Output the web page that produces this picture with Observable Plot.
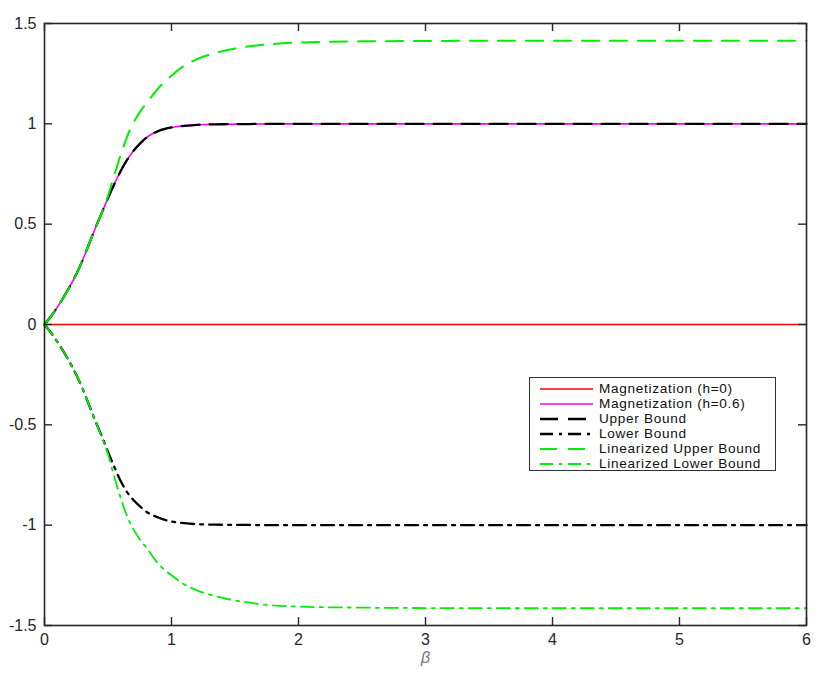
<!DOCTYPE html>
<html><head><meta charset="utf-8">
<script src="https://cdn.jsdelivr.net/npm/d3@7"></script>
<script src="https://cdn.jsdelivr.net/npm/@observablehq/plot@0.6"></script>
<style>
body{margin:0;background:#fff;font-family:"Liberation Sans",Arial,Helvetica,sans-serif}
#wrap{position:relative;width:830px;height:676px}
#legend{position:absolute;left:529px;top:377px;width:247px;height:94px;border:1px solid #333;background:#fff;box-sizing:border-box}
.row{position:absolute;left:0;height:15px;line-height:14px;display:flex;align-items:center;font-size:13.6px;letter-spacing:0.7px;color:#111;white-space:nowrap}
.row svg{margin-left:10px;margin-right:6px}
</style></head><body><div id="wrap"></div>
<script>
// data
const beta = [0,0.05,0.1,0.15,0.2,0.25,0.3,0.35,0.4,0.45,0.5,0.55,0.6,0.65,0.7,0.75,0.8,0.9,1.0,1.1,1.2,1.4,1.6,1.8,2.0,2.5,3,4,5,6];
const magH0 =      [0,0,0,0,0,0,0,0,0,0,0,0,0,0,0,0,0,0,0,0,0,0,0,0,0,0,0,0,0,0];
const magH06 =     [0,0.04,0.085,0.135,0.19,0.25,0.32,0.40,0.48,0.555,0.63,0.70,0.765,0.82,0.865,0.90,0.93,0.965,0.982,0.99,0.995,0.998,0.999,1,1,1,1,1,1,1];
const upperBound = [0,0.04,0.085,0.135,0.19,0.25,0.32,0.40,0.48,0.555,0.63,0.70,0.765,0.82,0.865,0.90,0.93,0.965,0.982,0.99,0.995,0.998,0.999,1,1,1,1,1,1,1];
const lowerBound = [0,-0.04,-0.085,-0.135,-0.19,-0.25,-0.32,-0.40,-0.48,-0.555,-0.635,-0.71,-0.78,-0.835,-0.875,-0.905,-0.932,-0.963,-0.982,-0.99,-0.995,-0.998,-0.999,-1,-1,-1,-1,-1,-1,-1];
const linUpper =   [0,0.04,0.085,0.135,0.19,0.25,0.32,0.40,0.48,0.555,0.64,0.745,0.845,0.935,1.005,1.058,1.10,1.18,1.24,1.29,1.322,1.362,1.385,1.398,1.405,1.411,1.413,1.414,1.414,1.414];
const linLower =   [0,-0.04,-0.085,-0.135,-0.19,-0.25,-0.32,-0.40,-0.48,-0.56,-0.645,-0.76,-0.865,-0.955,-1.02,-1.07,-1.11,-1.195,-1.25,-1.295,-1.325,-1.362,-1.385,-1.40,-1.406,-1.411,-1.413,-1.414,-1.414,-1.414];
const seriesNames = ["Magnetization (h=0)","Magnetization (h=0.6)","Upper Bound","Lower Bound","Linearized Upper Bound","Linearized Lower Bound"];
const seriesValues = [magH0, magH06, upperBound, lowerBound, linUpper, linLower];
const xTicks = [0,1,2,3,4,5,6];
const yTicks = [-1.5,-1,-0.5,0,0.5,1,1.5];
const yTickLabels = ["-1.5","-1","-0.5","0","0.5","1","1.5"];

const styles = [
  {stroke:"#ff0000", strokeWidth:1.6, dash:null},
  {stroke:"#ff00ff", strokeWidth:1.6, dash:null},
  {stroke:"#000000", strokeWidth:2.3, dash:"18,10"},
  {stroke:"#000000", strokeWidth:2.3, dash:"13,6,3,6"},
  {stroke:"#00ee00", strokeWidth:2.0, dash:"17,11"},
  {stroke:"#00ee00", strokeWidth:1.8, dash:"13,6,3,6"}
];

const W = 830, H = 676, mL = 44, mR = 24, mT = 23, mB = 51;
const innerW = W - mL - mR, innerH = H - mT - mB;

const lineMarks = seriesValues.map((vals, i) => {
  const rows = beta.map((b, j) => ({beta: b, value: vals[j]}));
  return Plot.line(rows, {x:"beta", y:"value", stroke: styles[i].stroke, strokeWidth: styles[i].strokeWidth,
    strokeDasharray: styles[i].dash || undefined, curve:"monotone-x"});
});

const axisColor = "#262626";
const chart = Plot.plot({
  width: W, height: H,
  marginLeft: mL, marginRight: mR, marginTop: mT, marginBottom: mB,
  style: {fontFamily: '"Liberation Sans", Arial, sans-serif', fontSize: "16px", color: axisColor, background:"#fff"},
  x: {domain: [0, 6]},
  y: {domain: [-1.5, 1.5]},
  marks: [
    ...lineMarks,
    Plot.frame({stroke: axisColor, strokeWidth: 1.6}),
    Plot.tickX(xTicks, {x: d => d, insetTop: innerH - 8, stroke: axisColor, strokeWidth: 1.4}),
    Plot.tickX(xTicks, {x: d => d, insetBottom: innerH - 8, stroke: axisColor, strokeWidth: 1.4}),
    Plot.tickY(yTicks, {y: d => d, insetRight: innerW - 8, stroke: axisColor, strokeWidth: 1.4}),
    Plot.tickY(yTicks, {y: d => d, insetLeft: innerW - 8, stroke: axisColor, strokeWidth: 1.4}),
    Plot.axisX(xTicks, {tickSize: 0, tickPadding: 8, label: null, tickFormat: d => String(d)}),
    Plot.axisY(yTicks, {tickSize: 0, tickPadding: 8, label: null, tickFormat: d => yTickLabels[yTicks.indexOf(d)]}),
    Plot.text(["β"], {text: d => d, frameAnchor: "bottom", dy: 37, fontStyle: "italic", fontSize: 16, fill: "#777"})
  ]
});
const wrap = document.getElementById("wrap");
wrap.appendChild(chart);

// legend
const legend = document.createElement("div");
legend.id = "legend";
seriesNames.forEach((name, i) => {
  const row = document.createElement("div");
  row.className = "row";
  row.style.top = (3 + i * 15) + "px";
  const s = styles[i];
  row.innerHTML = `<svg width="53" height="10"><line x1="0" x2="53" y1="5" y2="5" stroke="${s.stroke}" stroke-width="${s.strokeWidth}" ${s.dash ? `stroke-dasharray="${s.dash}"` : ""}/></svg><span>${name}</span>`;
  legend.appendChild(row);
});
wrap.appendChild(legend);
</script>
</body></html>
